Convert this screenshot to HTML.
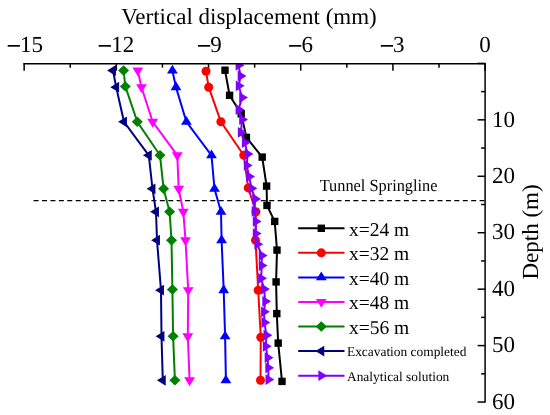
<!DOCTYPE html>
<html><head><meta charset="utf-8"><style>
html,body{margin:0;padding:0;background:#fff;width:550px;height:415px;overflow:hidden;}
svg{display:block;will-change:transform;}
text{text-rendering:geometricPrecision;}
text{fill:#000;}
</style></head><body>
<svg width="550" height="415" viewBox="0 0 550 415"><defs><clipPath id="pc"><rect x="0" y="63.4" width="550" height="352"/></clipPath></defs>
<line x1="24.15" y1="63.7" x2="24.15" y2="70.7" stroke="#000" stroke-width="1.5"/>
<line x1="70.25" y1="63.7" x2="70.25" y2="67.7" stroke="#000" stroke-width="1.5"/>
<line x1="116.34" y1="63.7" x2="116.34" y2="70.7" stroke="#000" stroke-width="1.5"/>
<line x1="162.44" y1="63.7" x2="162.44" y2="67.7" stroke="#000" stroke-width="1.5"/>
<line x1="208.53" y1="63.7" x2="208.53" y2="70.7" stroke="#000" stroke-width="1.5"/>
<line x1="254.63" y1="63.7" x2="254.63" y2="67.7" stroke="#000" stroke-width="1.5"/>
<line x1="300.72" y1="63.7" x2="300.72" y2="70.7" stroke="#000" stroke-width="1.5"/>
<line x1="346.82" y1="63.7" x2="346.82" y2="67.7" stroke="#000" stroke-width="1.5"/>
<line x1="392.91" y1="63.7" x2="392.91" y2="70.7" stroke="#000" stroke-width="1.5"/>
<line x1="439.00" y1="63.7" x2="439.00" y2="67.7" stroke="#000" stroke-width="1.5"/>
<line x1="485.10" y1="63.7" x2="485.10" y2="70.7" stroke="#000" stroke-width="1.5"/>
<line x1="485.1" y1="63.40" x2="477.60" y2="63.40" stroke="#000" stroke-width="1.5"/>
<line x1="485.1" y1="91.62" x2="481.10" y2="91.62" stroke="#000" stroke-width="1.5"/>
<line x1="485.1" y1="119.84" x2="477.60" y2="119.84" stroke="#000" stroke-width="1.5"/>
<line x1="485.1" y1="148.06" x2="481.10" y2="148.06" stroke="#000" stroke-width="1.5"/>
<line x1="485.1" y1="176.28" x2="477.60" y2="176.28" stroke="#000" stroke-width="1.5"/>
<line x1="485.1" y1="204.50" x2="481.10" y2="204.50" stroke="#000" stroke-width="1.5"/>
<line x1="485.1" y1="232.72" x2="477.60" y2="232.72" stroke="#000" stroke-width="1.5"/>
<line x1="485.1" y1="260.94" x2="481.10" y2="260.94" stroke="#000" stroke-width="1.5"/>
<line x1="485.1" y1="289.16" x2="477.60" y2="289.16" stroke="#000" stroke-width="1.5"/>
<line x1="485.1" y1="317.38" x2="481.10" y2="317.38" stroke="#000" stroke-width="1.5"/>
<line x1="485.1" y1="345.60" x2="477.60" y2="345.60" stroke="#000" stroke-width="1.5"/>
<line x1="485.1" y1="373.82" x2="481.10" y2="373.82" stroke="#000" stroke-width="1.5"/>
<line x1="485.1" y1="402.04" x2="477.60" y2="402.04" stroke="#000" stroke-width="1.5"/>
<line x1="33.6" y1="200.7" x2="484.5" y2="200.7" stroke="#000" stroke-width="1.3" stroke-dasharray="5 3.415"/>
<g clip-path="url(#pc)">
<polyline points="225.00,70.20 229.60,95.30 241.20,113.80 246.40,137.40 262.20,157.10 266.60,186.10 267.00,205.40 274.70,221.40 277.00,250.10 276.10,281.90 276.80,313.60 278.20,343.10 282.00,381.40" fill="none" stroke="#000000" stroke-width="2" stroke-linejoin="miter"/>
<rect x="221.30" y="66.50" width="7.4" height="7.4" fill="#000000"/>
<rect x="225.90" y="91.60" width="7.4" height="7.4" fill="#000000"/>
<rect x="237.50" y="110.10" width="7.4" height="7.4" fill="#000000"/>
<rect x="242.70" y="133.70" width="7.4" height="7.4" fill="#000000"/>
<rect x="258.50" y="153.40" width="7.4" height="7.4" fill="#000000"/>
<rect x="262.90" y="182.40" width="7.4" height="7.4" fill="#000000"/>
<rect x="263.30" y="201.70" width="7.4" height="7.4" fill="#000000"/>
<rect x="271.00" y="217.70" width="7.4" height="7.4" fill="#000000"/>
<rect x="273.30" y="246.40" width="7.4" height="7.4" fill="#000000"/>
<rect x="272.40" y="278.20" width="7.4" height="7.4" fill="#000000"/>
<rect x="273.10" y="309.90" width="7.4" height="7.4" fill="#000000"/>
<rect x="274.50" y="339.40" width="7.4" height="7.4" fill="#000000"/>
<rect x="278.30" y="377.70" width="7.4" height="7.4" fill="#000000"/>
<polyline points="206.00,71.30 208.70,87.20 220.90,121.80 243.80,155.30 248.20,187.90 255.90,211.80 255.50,240.20 258.20,290.30 260.80,337.20 260.50,380.30" fill="none" stroke="#FF0000" stroke-width="2" stroke-linejoin="miter"/>
<circle cx="206.00" cy="71.30" r="4.5" fill="#FF0000"/>
<circle cx="208.70" cy="87.20" r="4.5" fill="#FF0000"/>
<circle cx="220.90" cy="121.80" r="4.5" fill="#FF0000"/>
<circle cx="243.80" cy="155.30" r="4.5" fill="#FF0000"/>
<circle cx="248.20" cy="187.90" r="4.5" fill="#FF0000"/>
<circle cx="255.90" cy="211.80" r="4.5" fill="#FF0000"/>
<circle cx="255.50" cy="240.20" r="4.5" fill="#FF0000"/>
<circle cx="258.20" cy="290.30" r="4.5" fill="#FF0000"/>
<circle cx="260.80" cy="337.20" r="4.5" fill="#FF0000"/>
<circle cx="260.50" cy="380.30" r="4.5" fill="#FF0000"/>
<polyline points="172.40,70.50 176.00,87.20 186.40,121.80 211.50,155.30 214.50,188.80 221.00,211.80 221.60,240.20 223.70,290.20 225.10,336.30 225.90,380.30" fill="none" stroke="#0000FF" stroke-width="2" stroke-linejoin="miter"/>
<polygon points="172.40,64.63 177.80,73.43 167.00,73.43" fill="#0000FF"/>
<polygon points="176.00,81.33 181.40,90.13 170.60,90.13" fill="#0000FF"/>
<polygon points="186.40,115.93 191.80,124.73 181.00,124.73" fill="#0000FF"/>
<polygon points="211.50,149.43 216.90,158.23 206.10,158.23" fill="#0000FF"/>
<polygon points="214.50,182.93 219.90,191.73 209.10,191.73" fill="#0000FF"/>
<polygon points="221.00,205.93 226.40,214.73 215.60,214.73" fill="#0000FF"/>
<polygon points="221.60,234.33 227.00,243.13 216.20,243.13" fill="#0000FF"/>
<polygon points="223.70,284.33 229.10,293.13 218.30,293.13" fill="#0000FF"/>
<polygon points="225.10,330.43 230.50,339.23 219.70,339.23" fill="#0000FF"/>
<polygon points="225.90,374.43 231.30,383.23 220.50,383.23" fill="#0000FF"/>
<polyline points="137.80,70.50 141.50,87.20 152.70,121.80 177.30,155.30 178.70,188.80 183.30,211.80 185.50,240.20 188.20,290.20 187.80,336.30 189.60,380.30" fill="none" stroke="#FF00FF" stroke-width="2" stroke-linejoin="miter"/>
<polygon points="137.80,76.37 143.20,67.57 132.40,67.57" fill="#FF00FF"/>
<polygon points="141.50,93.07 146.90,84.27 136.10,84.27" fill="#FF00FF"/>
<polygon points="152.70,127.67 158.10,118.87 147.30,118.87" fill="#FF00FF"/>
<polygon points="177.30,161.17 182.70,152.37 171.90,152.37" fill="#FF00FF"/>
<polygon points="178.70,194.67 184.10,185.87 173.30,185.87" fill="#FF00FF"/>
<polygon points="183.30,217.67 188.70,208.87 177.90,208.87" fill="#FF00FF"/>
<polygon points="185.50,246.07 190.90,237.27 180.10,237.27" fill="#FF00FF"/>
<polygon points="188.20,296.07 193.60,287.27 182.80,287.27" fill="#FF00FF"/>
<polygon points="187.80,342.17 193.20,333.37 182.40,333.37" fill="#FF00FF"/>
<polygon points="189.60,386.17 195.00,377.37 184.20,377.37" fill="#FF00FF"/>
<polyline points="123.60,70.50 125.30,86.40 137.30,121.80 160.00,155.30 163.60,188.80 169.60,211.80 171.50,240.20 172.40,289.50 173.10,336.30 174.90,380.30" fill="none" stroke="#008000" stroke-width="2" stroke-linejoin="miter"/>
<polygon points="123.60,65.30 129.10,70.50 123.60,75.70 118.10,70.50" fill="#008000"/>
<polygon points="125.30,81.20 130.80,86.40 125.30,91.60 119.80,86.40" fill="#008000"/>
<polygon points="137.30,116.60 142.80,121.80 137.30,127.00 131.80,121.80" fill="#008000"/>
<polygon points="160.00,150.10 165.50,155.30 160.00,160.50 154.50,155.30" fill="#008000"/>
<polygon points="163.60,183.60 169.10,188.80 163.60,194.00 158.10,188.80" fill="#008000"/>
<polygon points="169.60,206.60 175.10,211.80 169.60,217.00 164.10,211.80" fill="#008000"/>
<polygon points="171.50,235.00 177.00,240.20 171.50,245.40 166.00,240.20" fill="#008000"/>
<polygon points="172.40,284.30 177.90,289.50 172.40,294.70 166.90,289.50" fill="#008000"/>
<polygon points="173.10,331.10 178.60,336.30 173.10,341.50 167.60,336.30" fill="#008000"/>
<polygon points="174.90,375.10 180.40,380.30 174.90,385.50 169.40,380.30" fill="#008000"/>
<polyline points="113.00,70.50 116.20,87.20 124.00,121.80 148.80,155.30 152.50,188.80 156.00,211.80 157.00,240.20 161.00,290.20 161.50,336.30 162.80,380.30" fill="none" stroke="#000080" stroke-width="2" stroke-linejoin="miter"/>
<polygon points="107.13,70.50 115.93,65.10 115.93,75.90" fill="#000080"/>
<polygon points="110.33,87.20 119.13,81.80 119.13,92.60" fill="#000080"/>
<polygon points="118.13,121.80 126.93,116.40 126.93,127.20" fill="#000080"/>
<polygon points="142.93,155.30 151.73,149.90 151.73,160.70" fill="#000080"/>
<polygon points="146.63,188.80 155.43,183.40 155.43,194.20" fill="#000080"/>
<polygon points="150.13,211.80 158.93,206.40 158.93,217.20" fill="#000080"/>
<polygon points="151.13,240.20 159.93,234.80 159.93,245.60" fill="#000080"/>
<polygon points="155.13,290.20 163.93,284.80 163.93,295.60" fill="#000080"/>
<polygon points="155.63,336.30 164.43,330.90 164.43,341.70" fill="#000080"/>
<polygon points="156.93,380.30 165.73,374.90 165.73,385.70" fill="#000080"/>
<polyline points="238.53,65.30 240.63,76.00 238.73,85.80 242.13,97.60 238.53,109.50 242.13,119.50 240.83,132.30 244.83,142.50 247.63,154.00 246.73,165.40 249.13,176.60 251.53,188.30 255.13,198.90 254.63,211.30 255.73,221.40 255.73,233.60 257.33,244.20 261.73,255.50 261.73,265.60 261.13,278.30 264.03,289.00 265.23,301.30 264.03,311.80 264.43,322.50 266.43,335.20 265.83,346.30 267.63,357.70 268.23,367.80 268.43,379.60" fill="none" stroke="#8000FF" stroke-width="2" stroke-linejoin="miter"/>
<polygon points="244.40,65.30 235.60,59.90 235.60,70.70" fill="#8000FF"/>
<polygon points="246.50,76.00 237.70,70.60 237.70,81.40" fill="#8000FF"/>
<polygon points="244.60,85.80 235.80,80.40 235.80,91.20" fill="#8000FF"/>
<polygon points="248.00,97.60 239.20,92.20 239.20,103.00" fill="#8000FF"/>
<polygon points="244.40,109.50 235.60,104.10 235.60,114.90" fill="#8000FF"/>
<polygon points="248.00,119.50 239.20,114.10 239.20,124.90" fill="#8000FF"/>
<polygon points="246.70,132.30 237.90,126.90 237.90,137.70" fill="#8000FF"/>
<polygon points="250.70,142.50 241.90,137.10 241.90,147.90" fill="#8000FF"/>
<polygon points="253.50,154.00 244.70,148.60 244.70,159.40" fill="#8000FF"/>
<polygon points="252.60,165.40 243.80,160.00 243.80,170.80" fill="#8000FF"/>
<polygon points="255.00,176.60 246.20,171.20 246.20,182.00" fill="#8000FF"/>
<polygon points="257.40,188.30 248.60,182.90 248.60,193.70" fill="#8000FF"/>
<polygon points="261.00,198.90 252.20,193.50 252.20,204.30" fill="#8000FF"/>
<polygon points="260.50,211.30 251.70,205.90 251.70,216.70" fill="#8000FF"/>
<polygon points="261.60,221.40 252.80,216.00 252.80,226.80" fill="#8000FF"/>
<polygon points="261.60,233.60 252.80,228.20 252.80,239.00" fill="#8000FF"/>
<polygon points="263.20,244.20 254.40,238.80 254.40,249.60" fill="#8000FF"/>
<polygon points="267.60,255.50 258.80,250.10 258.80,260.90" fill="#8000FF"/>
<polygon points="267.60,265.60 258.80,260.20 258.80,271.00" fill="#8000FF"/>
<polygon points="267.00,278.30 258.20,272.90 258.20,283.70" fill="#8000FF"/>
<polygon points="269.90,289.00 261.10,283.60 261.10,294.40" fill="#8000FF"/>
<polygon points="271.10,301.30 262.30,295.90 262.30,306.70" fill="#8000FF"/>
<polygon points="269.90,311.80 261.10,306.40 261.10,317.20" fill="#8000FF"/>
<polygon points="270.30,322.50 261.50,317.10 261.50,327.90" fill="#8000FF"/>
<polygon points="272.30,335.20 263.50,329.80 263.50,340.60" fill="#8000FF"/>
<polygon points="271.70,346.30 262.90,340.90 262.90,351.70" fill="#8000FF"/>
<polygon points="273.50,357.70 264.70,352.30 264.70,363.10" fill="#8000FF"/>
<polygon points="274.10,367.80 265.30,362.40 265.30,373.20" fill="#8000FF"/>
<polygon points="274.30,379.60 265.50,374.20 265.50,385.00" fill="#8000FF"/>
</g>
<line x1="23.3" y1="63.7" x2="485.8" y2="63.7" stroke="#000" stroke-width="1.5"/>
<line x1="485.1" y1="62.95" x2="485.1" y2="402.6" stroke="#000" stroke-width="1.5"/>
<text x="19.94" y="52.2" font-family="Liberation Serif" font-size="23">15</text>
<rect x="7.70" y="45" width="12.2" height="1.7" fill="#000"/>
<text x="111.33" y="52.2" font-family="Liberation Serif" font-size="23">12</text>
<rect x="98.70" y="45" width="12.2" height="1.7" fill="#000"/>
<text x="210.27" y="52.2" font-family="Liberation Serif" font-size="23">9</text>
<rect x="198.00" y="45" width="12.2" height="1.7" fill="#000"/>
<text x="301.46" y="52.2" font-family="Liberation Serif" font-size="23">6</text>
<rect x="289.10" y="45" width="12.2" height="1.7" fill="#000"/>
<text x="392.95" y="52.2" font-family="Liberation Serif" font-size="23">3</text>
<rect x="380.80" y="45" width="12.2" height="1.7" fill="#000"/>
<text x="485.10" y="52.2" font-family="Liberation Serif" font-size="23" text-anchor="middle">0</text>
<text x="492" y="126.54" font-family="Liberation Serif" font-size="23">10</text>
<text x="492" y="182.98" font-family="Liberation Serif" font-size="23">20</text>
<text x="492" y="239.42" font-family="Liberation Serif" font-size="23">30</text>
<text x="492" y="295.86" font-family="Liberation Serif" font-size="23">40</text>
<text x="492" y="352.30" font-family="Liberation Serif" font-size="23">50</text>
<text x="492" y="408.74" font-family="Liberation Serif" font-size="23">60</text>
<text x="249" y="24.2" font-family="Liberation Serif" font-size="23" text-anchor="middle">Vertical displacement (mm)</text>
<text transform="translate(538.4,232) rotate(-90)" x="0" y="0" font-family="Liberation Serif" font-size="23" text-anchor="middle">Depth (m)</text>
<text x="319.7" y="191" font-family="Liberation Serif" font-size="17" textLength="117.8" lengthAdjust="spacingAndGlyphs">Tunnel Springline</text>
<line x1="298.2" y1="228.30" x2="344.5" y2="228.30" stroke="#000000" stroke-width="2"/>
<rect x="317.60" y="224.60" width="7.4" height="7.4" fill="#000000"/>
<text x="349" y="235.60" font-family="Liberation Serif" font-size="19.5">x=24 m</text>
<line x1="298.2" y1="252.86" x2="344.5" y2="252.86" stroke="#FF0000" stroke-width="2"/>
<circle cx="321.30" cy="252.86" r="4.5" fill="#FF0000"/>
<text x="349" y="260.16" font-family="Liberation Serif" font-size="19.5">x=32 m</text>
<line x1="298.2" y1="277.42" x2="344.5" y2="277.42" stroke="#0000FF" stroke-width="2"/>
<polygon points="321.30,271.55 326.70,280.35 315.90,280.35" fill="#0000FF"/>
<text x="349" y="284.72" font-family="Liberation Serif" font-size="19.5">x=40 m</text>
<line x1="298.2" y1="301.98" x2="344.5" y2="301.98" stroke="#FF00FF" stroke-width="2"/>
<polygon points="321.30,307.85 326.70,299.05 315.90,299.05" fill="#FF00FF"/>
<text x="349" y="309.28" font-family="Liberation Serif" font-size="19.5">x=48 m</text>
<line x1="298.2" y1="326.54" x2="344.5" y2="326.54" stroke="#008000" stroke-width="2"/>
<polygon points="321.30,321.34 326.80,326.54 321.30,331.74 315.80,326.54" fill="#008000"/>
<text x="349" y="333.84" font-family="Liberation Serif" font-size="19.5">x=56 m</text>
<line x1="298.2" y1="351.10" x2="344.5" y2="351.10" stroke="#000080" stroke-width="2"/>
<polygon points="315.43,351.10 324.23,345.70 324.23,356.50" fill="#000080"/>
<text x="347" y="356.30" font-family="Liberation Serif" font-size="13.4">Excavation completed</text>
<line x1="298.2" y1="375.66" x2="344.5" y2="375.66" stroke="#8000FF" stroke-width="2"/>
<polygon points="327.17,375.66 318.37,370.26 318.37,381.06" fill="#8000FF"/>
<text x="347" y="380.86" font-family="Liberation Serif" font-size="13.4">Analytical solution</text></svg>
</body></html>
